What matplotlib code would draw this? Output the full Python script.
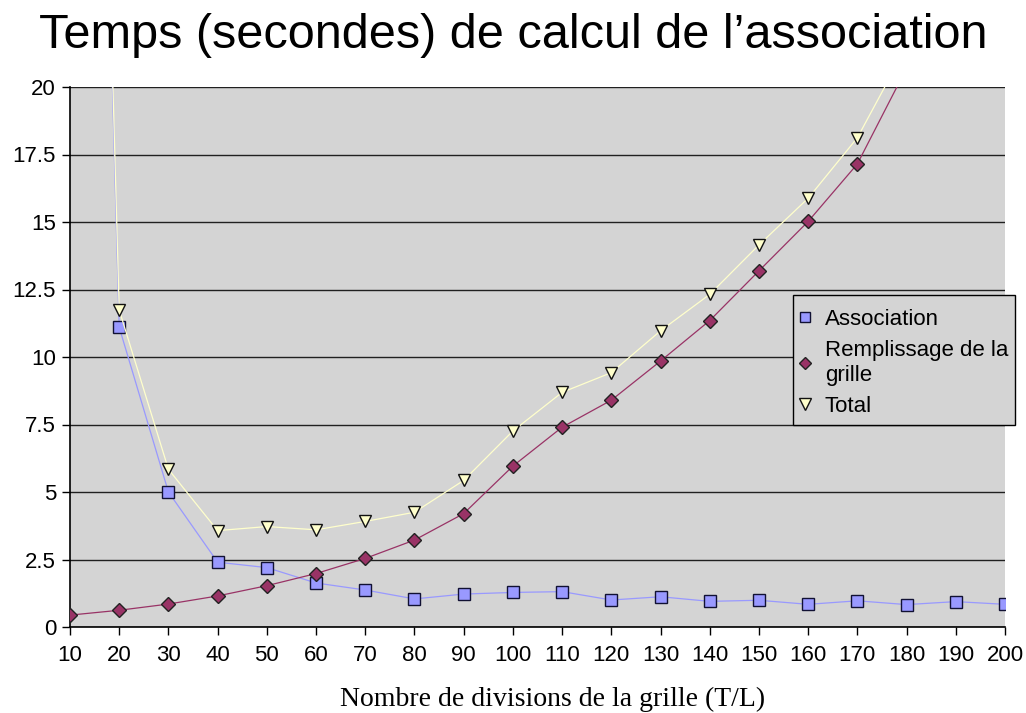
import numpy as np
import matplotlib
matplotlib.use("Agg")
import matplotlib.pyplot as plt
from matplotlib.lines import Line2D
from matplotlib.patches import Rectangle

plt.rcParams['font.family'] = ['Liberation Sans', 'DejaVu Sans']

# donnees
divisions = [10, 20, 30, 40, 50, 60, 70, 80, 90, 100,
             110, 120, 130, 140, 150, 160, 170, 180, 190, 200]
association = [76.0, 11.1, 5.0, 2.4, 2.2, 1.63, 1.37, 1.04, 1.22, 1.28,
               1.31, 1.0, 1.12, 0.95, 0.99, 0.84, 0.97, 0.83, 0.94, 0.84]
remplissage = [0.44, 0.62, 0.85, 1.15, 1.53, 1.98, 2.54, 3.22, 4.2, 5.96,
               7.4, 8.4, 9.85, 11.35, 13.19, 15.02, 17.15, 20.7, 23.8, 27.0]
total = [76.4, 11.74, 5.84, 3.57, 3.72, 3.6, 3.91, 4.25, 5.43, 7.26,
         8.69, 9.42, 10.97, 12.32, 14.15, 15.88, 18.12, 21.5, 24.7, 27.8]
yticks = [0, 2.5, 5, 7.5, 10, 12.5, 15, 17.5, 20]

c_assoc = '#9999FF'
c_rempl = '#993366'
c_total = '#FFFFCC'
c_fond = '#D4D4D4'

W, H = 1026, 713
fig = plt.figure(figsize=(W/100, H/100), dpi=100)
ax = fig.add_axes([70/W, 1 - 627/H, (1005 - 70)/W, (627 - 87)/H])
ax.set_facecolor(c_fond)

ax.plot(divisions, association, color=c_assoc, lw=0.9, marker='s', ms=8,
        mfc=c_assoc, mec='#111133', mew=1.0, zorder=3)
ax.plot(divisions, remplissage, color=c_rempl, lw=0.9, marker='D', ms=7,
        mfc=c_rempl, mec='#222222', mew=1.0, zorder=3)
ax.plot(divisions, total, color=c_total, lw=0.9, marker='v', ms=9,
        mfc=c_total, mec='#111111', mew=1.0, zorder=3)

ax.set_xlim(10, 200)
ax.set_ylim(0, 20)
ax.set_xticks(divisions)
ax.set_xticklabels([str(d) for d in divisions], fontsize=16)
ax.set_yticks(yticks)
ax.set_yticklabels(['%g' % v for v in yticks], fontsize=16)
ax.tick_params(direction='out', length=6, width=1, colors='black')
ax.tick_params(axis='x', pad=7)
ax.tick_params(axis='y', pad=4)

for s in ['top', 'right']:
    ax.spines[s].set_visible(False)
for s in ['left', 'bottom']:
    ax.spines[s].set_color('black')
    ax.spines[s].set_linewidth(1.2)

ax.yaxis.grid(True, color='#202020', lw=1.0)
ax.set_axisbelow(True)

fig.text(0.5, 1 - 36/H, "Temps (secondes) de calcul de l’association",
         ha='center', va='center', fontsize=35)
fig.text(553/W, 1 - 706/H, "Nombre de divisions de la grille (T/L)",
         ha='center', va='baseline', fontsize=20, family='Liberation Serif')

# cadre de la legende
fig.add_artist(Rectangle((793/W, 1 - 425/H), 222/W, 130/H,
                         transform=fig.transFigure, facecolor=c_fond,
                         edgecolor='black', lw=1.0, zorder=4))

handles = [
    Line2D([], [], ls='none', marker='s', ms=7, mfc=c_assoc, mec='#111133'),
    Line2D([], [], ls='none', marker='D', ms=6, mfc=c_rempl, mec='#222222'),
    Line2D([], [], ls='none', marker='v', ms=8, mfc=c_total, mec='#111111'),
]
labels = ['Association', 'Remplissage de la\ngrille', 'Total']
leg = fig.legend(handles, labels, loc='upper left',
                 bbox_to_anchor=(796/W, 1 - 309/H),
                 bbox_transform=fig.transFigure, fontsize=16,
                 frameon=False, borderaxespad=0, borderpad=0,
                 handletextpad=0.5, handlelength=0.8, labelspacing=0.47)
leg.set_zorder(5)

fig.savefig('out.png', dpi=100)
